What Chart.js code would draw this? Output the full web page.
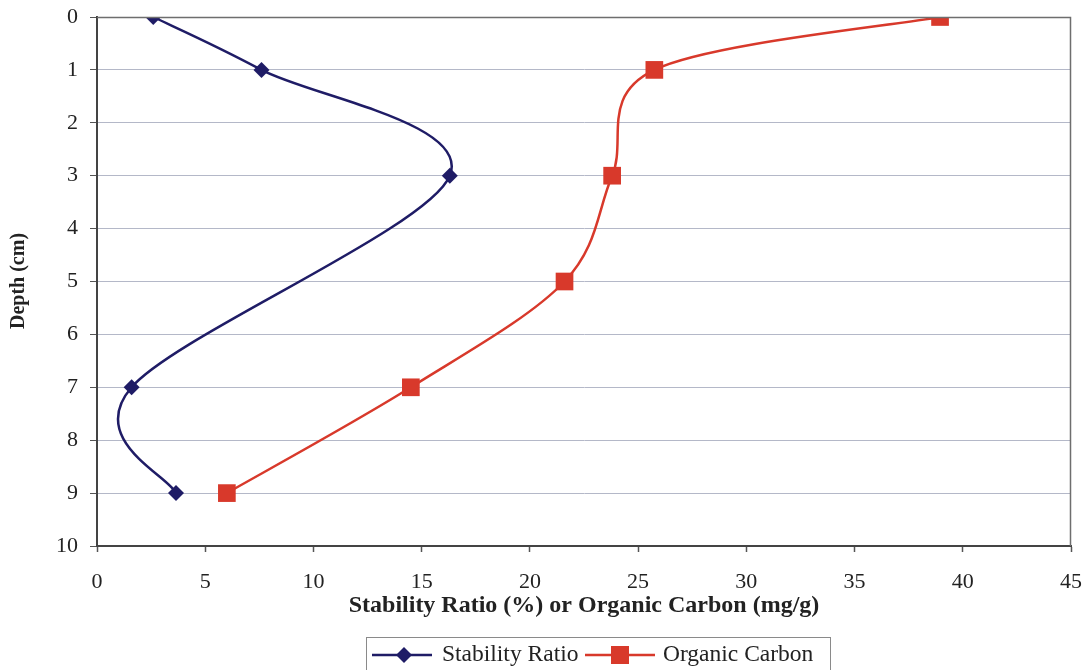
<!DOCTYPE html>
<html>
<head>
<meta charset="utf-8">
<script src="https://cdn.jsdelivr.net/npm/chart.js@4/dist/chart.umd.min.js"></script>
<style>
  html, body { margin: 0; padding: 0; background: #fff; }
  #wrap { width: 1090px; height: 670px; position: relative; }
</style>
</head>
<body>
<div id="wrap"><canvas id="depthChart"></canvas></div>
<script>
// depth profile: stability ratio and organic carbon vs depth
const stabilityDepth = [0, 1, 3, 7, 9];
const stabilityRatio = [2.6, 7.6, 16.3, 1.6, 3.65];
const carbonDepth = [0, 1, 3, 5, 7, 9];
const organicCarbon = [38.95, 25.75, 23.8, 21.6, 14.5, 6.0];
const depthTicks = [0, 1, 2, 3, 4, 5, 6, 7, 8, 9, 10];
const valueTicks = [0, 5, 10, 15, 20, 25, 30, 35, 40, 45];

const NAVY = '#1f1c66';
const RED = '#d8392b';
const SERIF = '"Liberation Serif", "Times New Roman", serif';

const toPoints = (xs, ys) => xs.map((x, i) => ({ x: x, y: ys[i] }));

// spreadsheet-style smoothing: handles are 1/6 of the neighbour chord,
// not weighted by segment length like Chart.js' own spline
const chordSmoothing = {
    id: 'chordSmoothing',
    beforeDatasetDraw(chart, args) {
        const line = args.meta.dataset;
        if (!line) return;
        line.updateControlPoints(chart.chartArea);
        const pts = args.meta.data;
        pts.forEach((pt, i) => {
            const prev = pts[i - 1] || pt;
            const next = pts[i + 1] || pt;
            const dx = (next.x - prev.x) / 6;
            const dy = (next.y - prev.y) / 6;
            pt.cp1x = pt.x - dx;
            pt.cp1y = pt.y - dy;
            pt.cp2x = pt.x + dx;
            pt.cp2y = pt.y + dy;
        });
    }
};

// titles and the boxed legend under the x axis
const annotations = {
    id: 'annotations',
    afterDraw(chart) {
        const ctx = chart.ctx;
        const area = chart.chartArea;
        ctx.save();

        // frame on top and right of plot area
        ctx.strokeStyle = '#6e6e6e';
        ctx.lineWidth = 1.5;
        ctx.beginPath();
        ctx.moveTo(area.left, area.top + 0.5);
        ctx.lineTo(area.right - 0.5, area.top + 0.5);
        ctx.lineTo(area.right - 0.5, area.bottom);
        ctx.stroke();

        ctx.fillStyle = '#222';
        ctx.textAlign = 'center';
        ctx.textBaseline = 'middle';
        ctx.font = 'bold 24px ' + SERIF;
        ctx.fillText('Stability Ratio (%) or Organic Carbon (mg/g)', 584, 606);

        ctx.save();
        ctx.translate(19, 281);
        ctx.rotate(-Math.PI / 2);
        ctx.font = 'bold 20px ' + SERIF;
        ctx.fillText('Depth (cm)', 0, 0);
        ctx.restore();

        // legend box
        ctx.strokeStyle = '#8a8a8a';
        ctx.lineWidth = 1;
        ctx.strokeRect(366.5, 637.5, 464, 40);

        const ly = 655;
        ctx.lineWidth = 2.5;
        ctx.strokeStyle = NAVY;
        ctx.beginPath();
        ctx.moveTo(372, ly);
        ctx.lineTo(432, ly);
        ctx.stroke();
        ctx.fillStyle = NAVY;
        ctx.beginPath();
        ctx.moveTo(404 - 8, ly);
        ctx.lineTo(404, ly - 8);
        ctx.lineTo(404 + 8, ly);
        ctx.lineTo(404, ly + 8);
        ctx.closePath();
        ctx.fill();

        ctx.strokeStyle = RED;
        ctx.beginPath();
        ctx.moveTo(585, ly);
        ctx.lineTo(655, ly);
        ctx.stroke();
        ctx.fillStyle = RED;
        ctx.fillRect(620 - 9, ly - 9, 18, 18);

        ctx.fillStyle = '#222';
        ctx.textAlign = 'left';
        ctx.font = '23.5px ' + SERIF;
        ctx.fillText('Stability Ratio', 442, ly);
        ctx.fillText('Organic Carbon', 663, ly);
        ctx.restore();
    }
};

new Chart(document.getElementById('depthChart'), {
    type: 'scatter',
    data: {
        datasets: [
            {
                label: 'Stability Ratio',
                data: toPoints(stabilityRatio, stabilityDepth),
                showLine: true,
                borderColor: NAVY,
                backgroundColor: NAVY,
                borderWidth: 2.5,
                tension: 0.3,
                pointStyle: 'rectRot',
                pointRadius: 8,
                pointBorderWidth: 0
            },
            {
                label: 'Organic Carbon',
                data: toPoints(organicCarbon, carbonDepth),
                showLine: true,
                borderColor: RED,
                backgroundColor: RED,
                borderWidth: 2.5,
                tension: 0.3,
                pointStyle: 'rect',
                pointRadius: 12.5,
                pointBorderWidth: 0
            }
        ]
    },
    options: {
        responsive: true,
        maintainAspectRatio: false,
        animation: false,
        layout: { padding: { top: 17, right: 19, left: 0, bottom: 0 } },
        plugins: {
            legend: { display: false },
            tooltip: { enabled: false }
        },
        scales: {
            x: {
                type: 'linear',
                min: 0,
                max: 45,
                afterBuildTicks: scale => { scale.ticks = valueTicks.map(v => ({ value: v })); },
                afterFit: scale => {
                    scale.height = 124;
                    scale.paddingLeft = 0;
                    scale.paddingRight = 0;
                },
                grid: { drawOnChartArea: false, drawTicks: true, tickLength: 6, tickColor: '#555', tickWidth: 1.5 },
                border: { display: true, color: '#444', width: 2 },
                ticks: { color: '#222', padding: 17, font: { family: SERIF, size: 22 } }
            },
            y: {
                type: 'linear',
                reverse: true,
                min: 0,
                max: 10,
                afterBuildTicks: scale => { scale.ticks = depthTicks.map(v => ({ value: v })); },
                afterFit: scale => {
                    scale.width = 97;
                    scale.paddingTop = 0;
                    scale.paddingBottom = 0;
                },
                grid: { color: '#b4b8c8', lineWidth: 1, drawTicks: true, tickLength: 7, tickColor: '#555' },
                border: { display: true, color: '#444', width: 2 },
                ticks: { color: '#222', padding: 12, font: { family: SERIF, size: 22 } }
            }
        }
    },
    plugins: [chordSmoothing, annotations]
});
</script>
</body>
</html>
